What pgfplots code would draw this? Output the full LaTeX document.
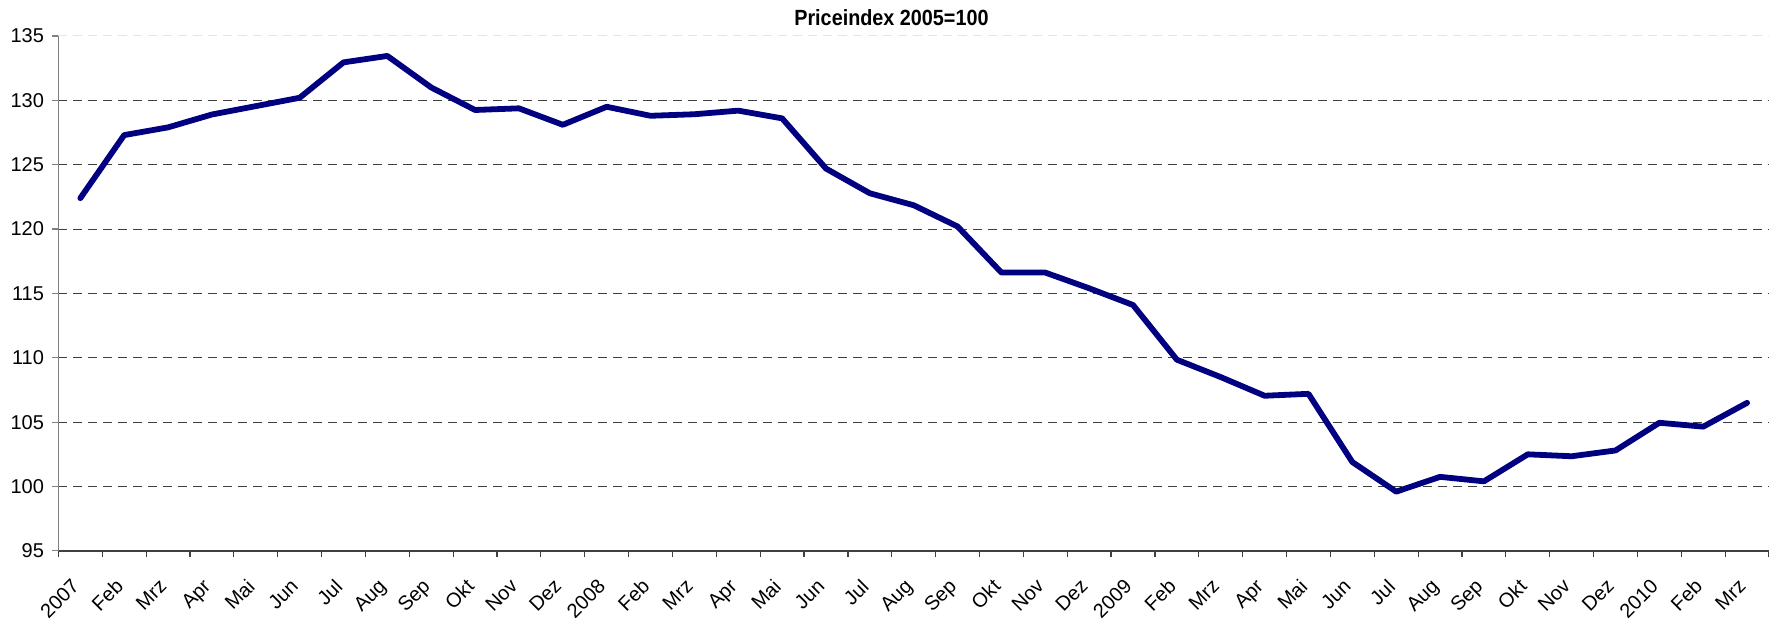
\documentclass[border=0pt]{standalone}
\usepackage{pgfplots}
\pgfplotsset{compat=1.18}
\usepackage{pgfplotstable}
\usepackage{fontspec}
\setmainfont{Liberation Sans}
\usepackage{graphicx}

\definecolor{navyline}{RGB}{0,0,128}

% monthly price index, Jan 2007 .. Mar 2010
\pgfplotstableread{
idx val
0  122.4
1  127.3
2  127.9
3  128.9
4  129.55
5  130.2
6  132.95
7  133.45
8  131.0
9  129.25
10 129.38
11 128.1
12 129.5
13 128.8
14 128.92
15 129.2
16 128.6
17 124.7
18 122.78
19 121.85
20 120.2
21 116.62
22 116.62
23 115.4
24 114.1
25 109.85
26 108.5
27 107.05
28 107.2
29 101.9
30 99.6
31 100.75
32 100.4
33 102.5
34 102.35
35 102.8
36 104.95
37 104.65
38 106.5
}\priceindex

\begin{document}
\begin{tikzpicture}
\begin{axis}[
  name=ax,
  scale only axis,
  width=855.5pt, height=257.5pt,
  xmin=-0.5, xmax=38.5,
  ymin=95, ymax=135,
  axis x line*=bottom, axis y line*=left,
  x axis line style={-, draw=black!75, line width=0.75pt},
  y axis line style={-, draw=black!50, line width=0.75pt},
  tick align=outside,
  major tick length=3pt,
  xtick={-0.5,0.5,...,38.5},
  x tick label as interval,
  xticklabels={2007,Feb,Mrz,Apr,Mai,Jun,Jul,Aug,Sep,Okt,Nov,Dez,
               2008,Feb,Mrz,Apr,Mai,Jun,Jul,Aug,Sep,Okt,Nov,Dez,
               2009,Feb,Mrz,Apr,Mai,Jun,Jul,Aug,Sep,Okt,Nov,Dez,
               2010,Feb,Mrz},
  x tick style={draw=black!75, line width=0.6pt},
  y tick style={draw=black!50, line width=0.6pt},
  ytick={95,100,...,130},
  extra y ticks={135},
  extra y tick style={major grid style={draw=black!10, dash pattern=on 4.5pt off 3pt, line width=0.5pt}},
  ymajorgrids,
  major grid style={draw=black!75, dash pattern=on 4.5pt off 3pt, line width=0.5pt},
  /pgf/number format/assume math mode=true,
  ticklabel style={font=\fontsize{10}{12}\selectfont},
  xticklabel style={xshift=-5pt, yshift=-10.2pt, rotate=45, anchor=north east, inner sep=0pt},
  yticklabel style={inner sep=0pt, xshift=-4pt},
  title={\fontsize{11}{13}\selectfont\bfseries\scalebox{0.9}[1]{Priceindex 2005=100}},
  title style={at={(0.487,1)}, anchor=base, yshift=-1pt},
]
\addplot[navyline, line width=2.9pt, line join=round, line cap=round] table[x=idx, y=val] {\priceindex};
\end{axis}
\pgfresetboundingbox
\path[use as bounding box] ([xshift=-29.2pt, yshift=-36pt]ax.south west) rectangle ([yshift=18pt]ax.north east);
\end{tikzpicture}
\end{document}
